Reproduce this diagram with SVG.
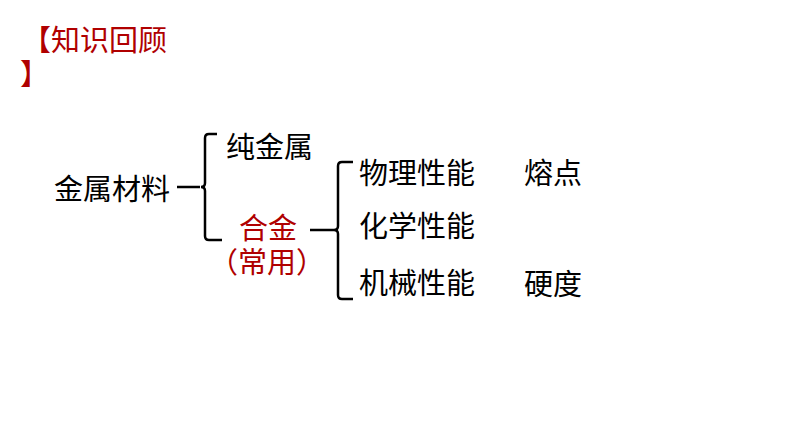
<svg xmlns="http://www.w3.org/2000/svg" width="794" height="447" viewBox="0 0 794 447">
<style>
text{font-family:"Noto Sans CJK SC","Microsoft YaHei",sans-serif;font-size:29px;fill:#000}
.red{fill:#B00000}
.br{fill:none;stroke:#000;stroke-width:2.5}
</style>
<rect width="794" height="447" fill="#fff"/>
<g id="title"><text class="red" x="22" y="51">【知识回顾</text><text class="red" x="20" y="85">】</text></g>
<g id="n-metal"><text x="54" y="200">金属材料</text></g>
<g id="n-pure"><text x="226" y="158">纯金属</text></g>
<g id="n-alloy"><text class="red" x="239" y="239">合金</text><text class="red" x="209" y="273">（常用）</text></g>
<g id="n-phys"><text x="359" y="184">物理性能</text></g>
<g id="n-chem"><text x="359" y="237">化学性能</text></g>
<g id="n-mech"><text x="359" y="294">机械性能</text></g>
<g id="n-melt"><text x="524" y="184">熔点</text></g>
<g id="n-hard"><text x="524" y="295">硬度</text></g>
<g id="connectors">
<path class="br" d="M177 187 H200 M217 134 H209 Q205 134 205 138 V183 Q205 187 201 187 Q205 187 205 191 V236 Q205 240 209 240 H222"/>
<path class="br" d="M310 230 H334 M353 162 H342 Q338 162 338 166 V226 Q338 230 334 230 Q338 230 338 234 V295 Q338 299 342 299 H353"/>
</g>
</svg>
